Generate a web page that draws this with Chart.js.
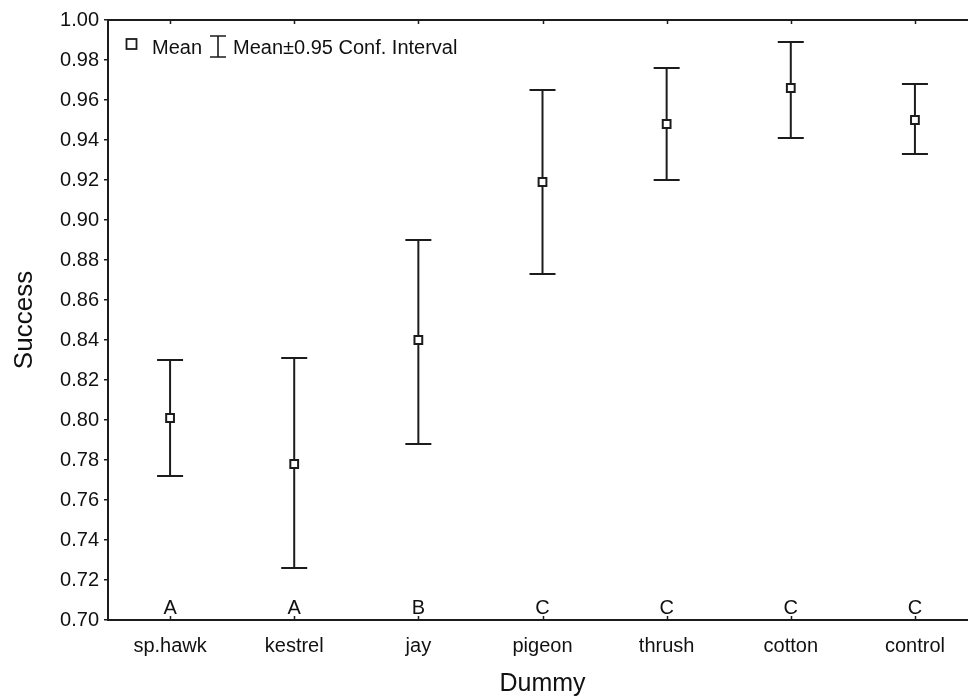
<!DOCTYPE html>
<html>
<head>
<meta charset="utf-8">
<script src="https://cdn.jsdelivr.net/npm/chart.js@4/dist/chart.umd.min.js"></script>
<style>
  html, body { margin: 0; padding: 0; background: #fff; overflow: hidden; }
  #zone { position: relative; width: 968px; height: 697px; overflow: hidden; }
</style>
</head>
<body>
<div id="zone"><canvas id="graphique" width="990" height="697"></canvas></div>
<script>
// Données
var categories = ['sp.hawk', 'kestrel', 'jay', 'pigeon', 'thrush', 'cotton', 'control'];
var moyennes   = [0.801, 0.778, 0.840, 0.919, 0.948, 0.966, 0.950];
var ciBas      = [0.772, 0.726, 0.788, 0.873, 0.920, 0.941, 0.933];
var ciHaut     = [0.830, 0.831, 0.890, 0.965, 0.976, 0.989, 0.968];
var lettres    = ['A', 'A', 'B', 'C', 'C', 'C', 'C'];
var yTickLabels = ['0.70', '0.72', '0.74', '0.76', '0.78', '0.80', '0.82', '0.84',
                   '0.86', '0.88', '0.90', '0.92', '0.94', '0.96', '0.98', '1.00'];
var legendeTextes = ['Mean', 'Mean\u00B10.95 Conf. Interval'];

var police = '"Liberation Sans", Arial, sans-serif';
var noir = '#1c1c1c';

/* Barres d'erreur, cadre, lettres et légende */
var dessinPerso = {
    id: 'dessinPerso',
    beforeDatasetsDraw: function(chart) {
        var ctx = chart.ctx, x = chart.scales.x, y = chart.scales.y;
        ctx.save();
        ctx.strokeStyle = noir;
        ctx.lineWidth = 2;
        for (var i = 0; i < categories.length; i++) {
            var px = x.getPixelForValue(i);
            var yb = y.getPixelForValue(ciBas[i]);
            var yh = y.getPixelForValue(ciHaut[i]);
            ctx.beginPath();
            ctx.moveTo(px, yb); ctx.lineTo(px, yh);
            ctx.moveTo(px - 13, yb); ctx.lineTo(px + 13, yb);
            ctx.moveTo(px - 13, yh); ctx.lineTo(px + 13, yh);
            ctx.stroke();
        }
        ctx.restore();
    },
    afterDraw: function(chart) {
        var ctx = chart.ctx, a = chart.chartArea, x = chart.scales.x, y = chart.scales.y;
        ctx.save();
        //Cadre
        ctx.strokeStyle = noir;
        ctx.lineWidth = 2;
        ctx.strokeRect(a.left, a.top, a.right - a.left, a.bottom - a.top);
        //Graduations haut et bas (vers l'intérieur)
        ctx.lineWidth = 1.5;
        ctx.beginPath();
        for (var i = 0; i < categories.length; i++) {
            var px = Math.round(x.getPixelForValue(i)) + 0.5;
            ctx.moveTo(px, a.top); ctx.lineTo(px, a.top + 4);
            ctx.moveTo(px, a.bottom); ctx.lineTo(px, a.bottom - 4);
        }
        ctx.stroke();
        //Lettres de groupes
        ctx.fillStyle = '#111';
        ctx.font = '20px ' + police;
        ctx.textAlign = 'center';
        ctx.textBaseline = 'alphabetic';
        for (var j = 0; j < lettres.length; j++) {
            ctx.fillText(lettres[j], x.getPixelForValue(j), y.getPixelForValue(y.min) - 6);
        }
        //Légende
        var lx = a.left + 18, ly = a.top + 24;
        ctx.lineWidth = 1.8;
        ctx.strokeRect(lx + 0.5, ly - 5, 10, 10);
        ctx.textAlign = 'left';
        ctx.fillText(legendeTextes[0], lx + 26, ly + 10);
        var ex = lx + 92;
        ctx.lineWidth = 1.6;
        ctx.beginPath();
        ctx.moveTo(ex - 8, ly - 8); ctx.lineTo(ex + 8, ly - 8);
        ctx.moveTo(ex, ly - 8); ctx.lineTo(ex, ly + 13);
        ctx.moveTo(ex - 8, ly + 13); ctx.lineTo(ex + 8, ly + 13);
        ctx.stroke();
        ctx.fillText(legendeTextes[1], ex + 15, ly + 10);
        ctx.restore();
    }
};

var ctx = document.getElementById('graphique').getContext('2d');
var graphique = new Chart(ctx, {
    type: 'line',
    data: {
        labels: categories,
        datasets: [{
            label: 'Mean',
            data: moyennes,
            showLine: false,
            pointStyle: 'rect',
            pointRadius: 5.5,
            pointBackgroundColor: '#fff',
            pointBorderColor: noir,
            pointBorderWidth: 2
        }]
    },
    options: {
        responsive: false,
        animation: false,
        devicePixelRatio: 1,
        layout: { padding: { top: 20, right: 13, bottom: 0, left: 0 } },
        plugins: { legend: { display: false }, tooltip: { enabled: false } },
        scales: {
            x: {
                type: 'category',
                offset: true,
                grid: { drawOnChartArea: false, drawTicks: false, display: false },
                border: { display: false },
                ticks: { color: '#111', font: { family: police, size: 20 }, padding: 14, maxRotation: 0 },
                title: { display: true, text: 'Dummy', color: '#111', font: { family: police, size: 25 }, padding: { top: 0, bottom: -2 } },
                afterFit: function(scale) { scale.height = 77; }
            },
            y: {
                min: 0.70,
                max: 1.00,
                afterBuildTicks: function(scale) {
                    scale.ticks = yTickLabels.map(function(t) { return { value: parseFloat(t) }; });
                },
                grid: { drawOnChartArea: false, drawTicks: true, tickLength: 4, color: noir, lineWidth: 1.5 },
                border: { display: false },
                ticks: {
                    color: '#111', font: { family: police, size: 20 }, padding: 5,
                    callback: function(v) { return Number(v).toFixed(2); }
                },
                title: { display: true, text: 'Success', color: '#111', font: { family: police, size: 26 }, padding: { top: 9, bottom: 0 } },
                afterFit: function(scale) { scale.width = 108; }
            }
        }
    },
    plugins: [dessinPerso]
});
</script>
</body>
</html>
